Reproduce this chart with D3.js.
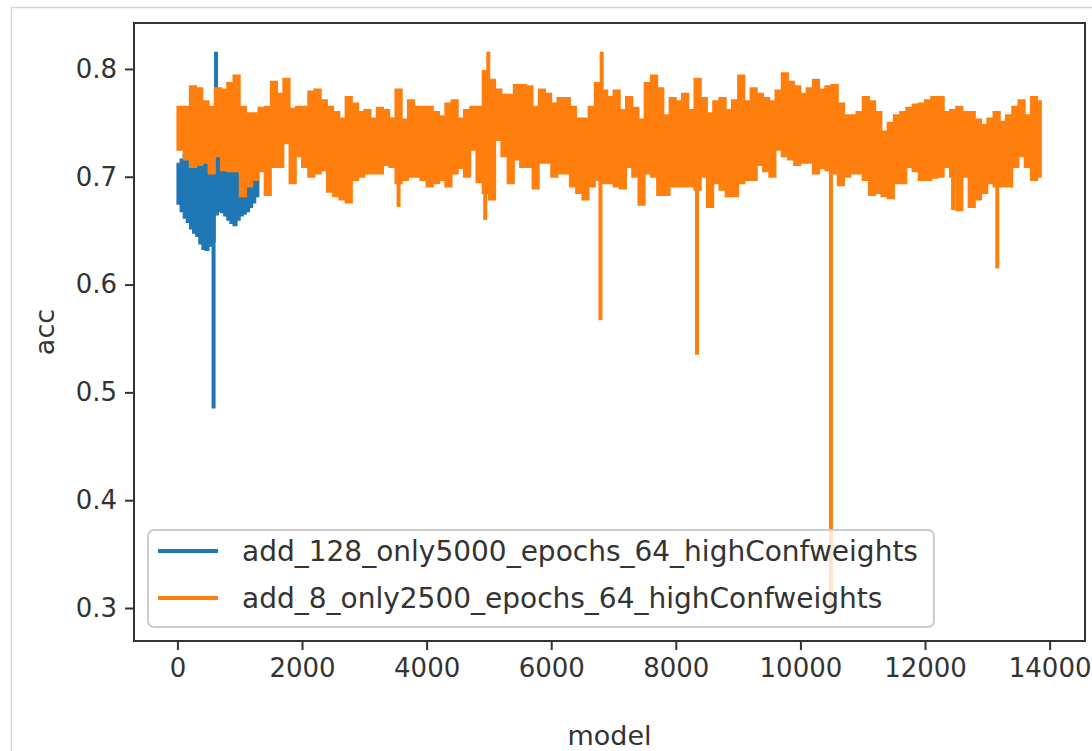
<!DOCTYPE html>
<html>
<head>
<meta charset="utf-8">
<script src="https://cdn.jsdelivr.net/npm/d3@7"></script>
<style>
  body { margin: 0; background: #fff; }
  text { font-family: "DejaVu Sans", sans-serif; }
</style>
</head>
<body>
<svg width="1092" height="751"></svg>
<script>
// series names (legend)
const seriesNames = ["add_128_only5000_epochs_64_highConfweights", "add_8_only2500_epochs_64_highConfweights"];
const seriesColors = ["#1f77b4", "#ff7f0e"];

// blue run: one sample every 50 models, upper / lower edge of the noisy trace
const blueStep = 50;
const blueHi = [0.712, 0.716, 0.720, 0.722, 0.722, 0.720, 0.718, 0.716, 0.714, 0.712, 0.710, 0.715, 0.720, 0.718,
                0.715, 0.720, 0.716, 0.712, 0.710, 0.708, 0.706, 0.704, 0.702, 0.700, 0.702, 0.703, 0.700];
const blueLo = [0.675, 0.668, 0.662, 0.658, 0.652, 0.648, 0.645, 0.638, 0.633, 0.632, 0.636, 0.640, 0.665, 0.668,
                0.667, 0.664, 0.660, 0.657, 0.655, 0.660, 0.664, 0.666, 0.668, 0.672, 0.676, 0.682, 0.690];
const blueSpikeX = [580, 620];
const blueSpikeY = [0.485, 0.816];

// orange run: one sample every 100 models (last one is model 13860)
const orangeStep = 100;
const orangeLastX = 13860;
const orangeHi = [
  0.765, 0.765, 0.784, 0.782, 0.770, 0.765, 0.782, 0.781, 0.787, 0.794, 0.765, 0.759, 0.759, 0.764, 0.765, 0.788,
  0.777, 0.791, 0.763, 0.765, 0.765, 0.779, 0.781, 0.771, 0.765, 0.760, 0.754, 0.774, 0.768, 0.760, 0.762, 0.754,
  0.764, 0.762, 0.754, 0.781, 0.753, 0.771, 0.765, 0.765, 0.765, 0.760, 0.756, 0.768, 0.771, 0.754, 0.762, 0.765,
  0.765, 0.798, 0.790, 0.781, 0.776, 0.776, 0.785, 0.785, 0.784, 0.765, 0.781, 0.777, 0.768, 0.773, 0.773, 0.765,
  0.754, 0.754, 0.765, 0.787, 0.780, 0.774, 0.780, 0.762, 0.774, 0.764, 0.753, 0.787, 0.794, 0.782, 0.757, 0.773,
  0.770, 0.777, 0.762, 0.791, 0.773, 0.759, 0.770, 0.773, 0.762, 0.771, 0.794, 0.770, 0.782, 0.777, 0.773, 0.770,
  0.780, 0.796, 0.788, 0.784, 0.777, 0.782, 0.790, 0.781, 0.784, 0.785, 0.768, 0.757, 0.757, 0.760, 0.774, 0.770,
  0.760, 0.742, 0.750, 0.757, 0.760, 0.764, 0.767, 0.768, 0.771, 0.774, 0.774, 0.760, 0.762, 0.765, 0.760, 0.760,
  0.753, 0.748, 0.754, 0.760, 0.751, 0.757, 0.765, 0.771, 0.757, 0.774, 0.770, 0.771];
const orangeLo = [
  0.725, 0.716, 0.709, 0.711, 0.713, 0.703, 0.719, 0.706, 0.705, 0.705, 0.682, 0.691, 0.697, 0.705, 0.683, 0.709,
  0.709, 0.731, 0.694, 0.719, 0.709, 0.700, 0.703, 0.706, 0.686, 0.682, 0.679, 0.676, 0.697, 0.700, 0.703, 0.703,
  0.703, 0.711, 0.709, 0.694, 0.697, 0.700, 0.700, 0.697, 0.691, 0.694, 0.697, 0.691, 0.703, 0.708, 0.700, 0.725,
  0.695, 0.685, 0.679, 0.734, 0.719, 0.694, 0.716, 0.709, 0.709, 0.689, 0.713, 0.713, 0.700, 0.703, 0.703, 0.691,
  0.685, 0.679, 0.691, 0.697, 0.694, 0.694, 0.691, 0.689, 0.709, 0.700, 0.674, 0.703, 0.700, 0.683, 0.683, 0.691,
  0.691, 0.691, 0.691, 0.688, 0.700, 0.672, 0.694, 0.688, 0.682, 0.682, 0.694, 0.697, 0.697, 0.711, 0.705, 0.700,
  0.725, 0.719, 0.716, 0.711, 0.713, 0.713, 0.703, 0.708, 0.706, 0.703, 0.692, 0.700, 0.703, 0.703, 0.697, 0.683,
  0.685, 0.682, 0.680, 0.694, 0.694, 0.709, 0.705, 0.697, 0.697, 0.699, 0.700, 0.709, 0.700, 0.669, 0.700, 0.672,
  0.679, 0.685, 0.694, 0.691, 0.691, 0.691, 0.709, 0.719, 0.709, 0.697, 0.700, 0.725];
// single-model outliers sticking out of the orange band
const orangeSpikeX = [3550, 4940, 4990, 6790, 6810, 8340, 10490, 12450, 13160];
const orangeSpikeY = [0.672, 0.660, 0.816, 0.567, 0.816, 0.535, 0.295, 0.669, 0.615];

// ticks
const xTicks = [0, 2000, 4000, 6000, 8000, 10000, 12000, 14000];
const yTicks = [0.3, 0.4, 0.5, 0.6, 0.7, 0.8];

const svg = d3.select("svg");
const plotL = 134, plotR = 1085, plotT = 23, plotB = 641;
const textColor = "#333";

// light notebook cell border
svg.append("rect")
  .attr("x", 11.5).attr("y", 7.5)
  .attr("width", 1200).attr("height", 900)
  .attr("fill", "none")
  .attr("stroke", "#d6d6d6")
  .attr("stroke-width", 1.5);

const x = d3.scaleLinear().domain([-697, 14568]).range([plotL, plotR]);
const y = d3.scaleLinear().domain([0.2694, 0.8426]).range([plotB, plotT]);

// build point rows
const blueRows = blueHi.map((v, i) => ({x: i * blueStep, hi: v, lo: blueLo[i]}));
const orangeRows = orangeHi.map((v, i) => ({
  x: i === orangeHi.length - 1 ? orangeLastX : i * orangeStep,
  hi: v, lo: orangeLo[i]
}));

const band = d3.area()
  .x(d => x(d.x))
  .y0(d => y(d.lo))
  .y1(d => y(d.hi))
  .curve(d3.curveStepAfter);

const seg = d3.line().x(d => x(d[0])).y(d => y(d[1]));

function drawSeries(rows, spX, spY, step, color) {
  const g = svg.append("g");
  // spikes first, band on top
  spX.forEach((sx, i) => {
    const r = rows[Math.min(rows.length - 1, Math.round(sx / step))];
    const mid = (r.hi + r.lo) / 2;
    g.append("path")
      .attr("d", seg([[sx, mid], [sx, spY[i]]]))
      .attr("stroke", color)
      .attr("stroke-width", 4)
      .attr("fill", "none");
  });
  g.append("path")
    .datum(rows)
    .attr("d", band)
    .attr("fill", color)
    .attr("stroke", color)
    .attr("stroke-width", 2);
}

drawSeries(blueRows, blueSpikeX, blueSpikeY, blueStep, seriesColors[0]);
drawSeries(orangeRows, orangeSpikeX, orangeSpikeY, orangeStep, seriesColors[1]);

// axes
const xAxis = svg.append("g")
  .attr("transform", `translate(0,${plotB})`)
  .call(d3.axisBottom(x).tickValues(xTicks).tickFormat(d3.format("d")).tickSize(9).tickPadding(9));
const yAxis = svg.append("g")
  .attr("transform", `translate(${plotL},0)`)
  .call(d3.axisLeft(y).tickValues(yTicks).tickFormat(d3.format(".1f")).tickSize(9).tickPadding(8));

[xAxis, yAxis].forEach(a => {
  a.select(".domain").remove();
  a.selectAll("line").attr("stroke", "#333").attr("stroke-width", 2);
  a.selectAll("text").attr("font-size", 26).attr("fill", textColor).attr("font-family", "DejaVu Sans");
});

// frame
svg.append("rect")
  .attr("x", plotL).attr("y", plotT)
  .attr("width", plotR - plotL).attr("height", plotB - plotT)
  .attr("fill", "none")
  .attr("stroke", "#333")
  .attr("stroke-width", 2);

// axis titles
svg.append("text")
  .attr("x", (plotL + plotR) / 2).attr("y", 745)
  .attr("text-anchor", "middle")
  .attr("font-size", 27).attr("fill", textColor)
  .text("model");
svg.append("text")
  .attr("transform", `translate(54,${(plotT + plotB) / 2}) rotate(-90)`)
  .attr("text-anchor", "middle")
  .attr("font-size", 27).attr("fill", textColor)
  .text("acc");

// legend
const leg = svg.append("g");
const legBox = leg.append("rect")
  .attr("x", 148).attr("y", 530)
  .attr("height", 97)
  .attr("rx", 6)
  .attr("fill", "white")
  .attr("fill-opacity", 0.8)
  .attr("stroke", "#cccccc")
  .attr("stroke-width", 2);
let maxLen = 0;
seriesNames.forEach((name, i) => {
  const cy = 551 + i * 47;
  leg.append("line")
    .attr("x1", 158).attr("x2", 218)
    .attr("y1", cy).attr("y2", cy)
    .attr("stroke", seriesColors[i])
    .attr("stroke-width", 4);
  const t = leg.append("text")
    .attr("x", 242).attr("y", cy)
    .attr("dy", "0.36em")
    .attr("font-size", 28).attr("fill", textColor)
    .text(name);
  maxLen = Math.max(maxLen, t.node().getComputedTextLength());
});
legBox.attr("width", 242 + maxLen + 16 - 148);
</script>
</body>
</html>
